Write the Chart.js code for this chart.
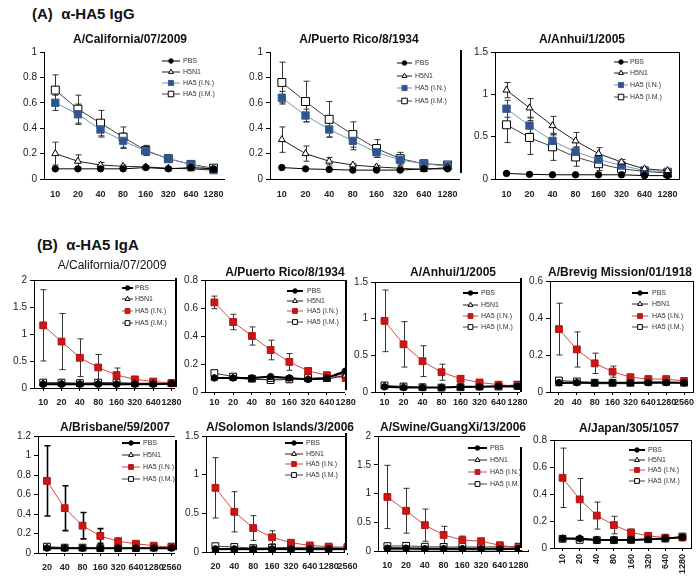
<!DOCTYPE html>
<html>
<head>
<meta charset="utf-8">
<script src="https://cdn.jsdelivr.net/npm/chart.js@4.4.0/dist/chart.umd.min.js"></script>
<style>
  body { margin:0; background:#fff; width:700px; height:581px; position:relative; overflow:hidden; font-family:"Liberation Sans", Arial, sans-serif; }
  canvas { position:absolute; }
  .head { position:absolute; font-weight:bold; font-size:15px; color:#111; white-space:pre; }
  .ttl { position:absolute; font-weight:bold; font-size:12px; color:#111; white-space:nowrap; transform:translateX(-50%); line-height:14px; }
</style>
</head>
<body>
<div class="head" style="left:32px;top:5px">(A)  α-HA5 IgG</div>
<div class="head" style="left:37px;top:236px">(B)  α-HA5 IgA</div>
<script>
// dilutions (x categories)
const dil10 = ['10', '20', '40', '80', '160', '320', '640', '1280'];
const dil20 = ['20', '40', '80', '160', '320', '640', '1280', '2560'];
const seriesNames = ['PBS', 'H5N1', 'HA5 (I.N.)', 'HA5 (I.M.)'];

// (A) IgG - A/California/07/2009
const gCalPBS = [0.08, 0.08, 0.08, 0.08, 0.09, 0.08, 0.09, 0.08];
const gCalH5N1 = [0.20, 0.14, 0.11, 0.10, 0.095, 0.085, 0.08, 0.07];
const gCalIN = [0.60, 0.51, 0.39, 0.30, 0.22, 0.16, 0.115, 0.07];
const gCalIM = [0.70, 0.55, 0.44, 0.33, 0.225, 0.16, 0.115, 0.085];
const gCalH5N1Err = [0.09, 0.05, 0.02, 0.01, 0.01, 0.01, 0.01, 0.01];
const gCalINErr = [0.06, 0.08, 0.06, 0.06, 0.03, 0.02, 0.01, 0.01];
const gCalIMErr = [0.12, 0.11, 0.10, 0.08, 0.04, 0.02, 0.01, 0.01];

// (A) IgG - A/Puerto Rico/8/1934
const gPrPBS = [0.09, 0.08, 0.075, 0.07, 0.07, 0.07, 0.08, 0.08];
const gPrH5N1 = [0.31, 0.20, 0.14, 0.11, 0.095, 0.085, 0.075, 0.09];
const gPrIN = [0.64, 0.50, 0.39, 0.30, 0.21, 0.15, 0.12, 0.10];
const gPrIM = [0.76, 0.61, 0.47, 0.35, 0.24, 0.16, 0.12, 0.11];
const gPrH5N1Err = [0.10, 0.06, 0.03, 0.01, 0.01, 0.01, 0.01, 0.01];
const gPrINErr = [0.05, 0.05, 0.06, 0.07, 0.04, 0.02, 0.01, 0.01];
const gPrIMErr = [0.16, 0.16, 0.14, 0.10, 0.07, 0.05, 0.02, 0.01];

// (A) IgG - A/Anhui/1/2005
const gAnPBS = [0.066, 0.055, 0.05, 0.05, 0.05, 0.05, 0.04, 0.04];
const gAnH5N1 = [1.05, 0.84, 0.63, 0.45, 0.30, 0.20, 0.12, 0.10];
const gAnIN = [0.83, 0.63, 0.45, 0.32, 0.23, 0.16, 0.10, 0.085];
const gAnIM = [0.64, 0.49, 0.38, 0.26, 0.18, 0.12, 0.09, 0.07];
const gAnH5N1Err = [0.09, 0.11, 0.11, 0.10, 0.07, 0.03, 0.02, 0.02];
const gAnINErr = [0.10, 0.09, 0.08, 0.06, 0.04, 0.03, 0.02, 0.01];
const gAnIMErr = [0.21, 0.20, 0.16, 0.11, 0.08, 0.04, 0.02, 0.01];

// (B) IgA - A/California/07/2009
const aCalPBS = [0.07, 0.07, 0.07, 0.07, 0.07, 0.07, 0.07, 0.08];
const aCalH5N1 = [0.08, 0.08, 0.08, 0.08, 0.08, 0.08, 0.08, 0.08];
const aCalIN = [1.16, 0.86, 0.56, 0.38, 0.24, 0.16, 0.12, 0.09];
const aCalIM = [0.10, 0.10, 0.09, 0.10, 0.10, 0.09, 0.09, 0.09];
const aCalINErr = [0.66, 0.52, 0.35, 0.24, 0.13, 0.05, 0.02, 0.01];

// (B) IgA - A/Puerto Rico/8/1934
const aPrPBS = [0.10, 0.10, 0.10, 0.11, 0.10, 0.09, 0.10, 0.15];
const aPrH5N1 = [0.10, 0.10, 0.09, 0.09, 0.095, 0.09, 0.09, 0.12];
const aPrIN = [0.64, 0.50, 0.40, 0.30, 0.215, 0.15, 0.12, 0.10];
const aPrIM = [0.135, 0.11, 0.095, 0.085, 0.09, 0.10, 0.10, 0.135];
const aPrINErr = [0.045, 0.055, 0.065, 0.07, 0.06, 0.02, 0.01, 0.01];

// (B) IgA - A/Anhui/1/2005
const aAnPBS = [0.07, 0.06, 0.06, 0.06, 0.07, 0.07, 0.08, 0.08];
const aAnH5N1 = [0.08, 0.07, 0.06, 0.06, 0.06, 0.07, 0.07, 0.07];
const aAnIN = [0.97, 0.65, 0.42, 0.27, 0.18, 0.13, 0.10, 0.08];
const aAnIM = [0.09, 0.075, 0.065, 0.06, 0.065, 0.075, 0.075, 0.10];
const aAnINErr = [0.42, 0.31, 0.21, 0.11, 0.04, 0.02, 0.01, 0.01];

// (B) IgA - A/Brevig Mission/01/1918
const aBrPBS = [0.05, 0.05, 0.05, 0.05, 0.05, 0.05, 0.05, 0.05];
const aBrH5N1 = [0.045, 0.05, 0.045, 0.045, 0.045, 0.05, 0.05, 0.05];
const aBrIN = [0.34, 0.23, 0.155, 0.11, 0.08, 0.07, 0.07, 0.06];
const aBrIM = [0.062, 0.057, 0.05, 0.05, 0.05, 0.055, 0.055, 0.05];
const aBrINErr = [0.14, 0.095, 0.055, 0.03, 0.01, 0.01, 0.01, 0.01];

// (B) IgA - A/Brisbane/59/2007
const aBbPBS = [0.05, 0.05, 0.05, 0.05, 0.05, 0.05, 0.05, 0.05];
const aBbH5N1 = [0.05, 0.05, 0.05, 0.05, 0.05, 0.05, 0.05, 0.05];
const aBbIN = [0.74, 0.46, 0.28, 0.175, 0.12, 0.095, 0.075, 0.06];
const aBbIM = [0.065, 0.055, 0.055, 0.05, 0.05, 0.05, 0.055, 0.065];
const aBbINErr = [0.36, 0.23, 0.135, 0.075, 0.03, 0.01, 0.01, 0.01];

// (B) IgA - A/Solomon Islands/3/2006
const aSoPBS = [0.04, 0.04, 0.04, 0.04, 0.04, 0.04, 0.04, 0.04];
const aSoH5N1 = [0.03, 0.03, 0.03, 0.03, 0.03, 0.03, 0.03, 0.03];
const aSoIN = [0.83, 0.52, 0.31, 0.19, 0.12, 0.085, 0.07, 0.05];
const aSoIM = [0.075, 0.065, 0.05, 0.055, 0.06, 0.06, 0.06, 0.065];
const aSoINErr = [0.39, 0.26, 0.16, 0.085, 0.02, 0.01, 0.01, 0.01];

// (B) IgA - A/Swine/GuangXi/13/2006
const aSwPBS = [0.05, 0.05, 0.04, 0.04, 0.04, 0.04, 0.04, 0.04];
const aSwH5N1 = [0.02, 0.02, 0.02, 0.02, 0.02, 0.02, 0.02, 0.03];
const aSwIN = [0.94, 0.70, 0.45, 0.28, 0.19, 0.17, 0.10, 0.05];
const aSwIM = [0.085, 0.09, 0.075, 0.07, 0.07, 0.07, 0.075, 0.075];
const aSwINErr = [0.55, 0.39, 0.28, 0.15, 0.07, 0.05, 0.01, 0.01];

// (B) IgA - A/Japan/305/1057
const aJpPBS = [0.07, 0.07, 0.06, 0.06, 0.06, 0.065, 0.07, 0.08];
const aJpH5N1 = [0.07, 0.07, 0.06, 0.06, 0.06, 0.06, 0.07, 0.08];
const aJpIN = [0.52, 0.36, 0.24, 0.17, 0.115, 0.09, 0.077, 0.077];
const aJpIM = [0.068, 0.06, 0.058, 0.058, 0.06, 0.065, 0.07, 0.085];
const aJpINErr = [0.22, 0.155, 0.10, 0.065, 0.025, 0.01, 0.01, 0.01];

// layout of each panel (page pixels)
const panels = [
  { kind: 'igg', title: 'A/California/07/2009', tx: 130, ty: 39, labels: dil10,
    vals: [gCalPBS, gCalH5N1, gCalIN, gCalIM], errs: [null, gCalH5N1Err, gCalINErr, gCalIMErr],
    yMax: 1, yStep: 0.2, cx: 0, L: 44, T: 50, R: 227, B: 179, xPad: 10, xH: 26,
    leg: { x1: 162, x2: 180, tx: 183, ys: [61, 72, 83, 94] } },
  { kind: 'igg', title: 'A/Puerto Rico/8/1934', tx: 359, ty: 39, labels: dil10,
    vals: [gPrPBS, gPrH5N1, gPrIN, gPrIM], errs: [null, gPrH5N1Err, gPrINErr, gPrIMErr],
    yMax: 1, yStep: 0.2, cx: 230, L: 270, T: 50, R: 461, B: 179, xPad: 10, xH: 26,
    leg: { x1: 397, x2: 412, tx: 415, ys: [63, 76, 88, 101] } },
  { kind: 'igg', title: 'A/Anhui/1/2005', tx: 582, ty: 39, labels: dil10,
    vals: [gAnPBS, gAnH5N1, gAnIN, gAnIM], errs: [null, gAnH5N1Err, gAnINErr, gAnIMErr],
    yMax: 1.5, yStep: 0.5, cx: 460, L: 495, T: 50, R: 681, B: 179, xPad: 10, xH: 26, box: true, frame: [50, 173],
    leg: { x1: 614, x2: 628, tx: 630, ys: [62, 73, 85, 97] } },
  { kind: 'iga', title: 'A/California/07/2009', light: true, tx: 112, ty: 265, labels: dil10,
    vals: [aCalPBS, aCalH5N1, aCalIN, aCalIM], errs: [null, null, aCalINErr, null],
    yMax: 2, yStep: 0.5, cx: 0, L: 34, T: 278, B: 388, R: 181, xPad: 6, xH: 20, box: true,
    leg: { x1: 122, x2: 133, tx: 135, ys: [288, 299, 311, 323] } },
  { kind: 'iga', title: 'A/Puerto Rico/8/1934', tx: 285, ty: 272, labels: dil10,
    vals: [aPrPBS, aPrH5N1, aPrIN, aPrIM], errs: [null, null, aPrINErr, null],
    yMax: 0.8, yStep: 0.2, cx: 175, L: 205, T: 278, B: 392, R: 355, xPad: 2, xH: 16, box: true, frame: [278, 387],
    leg: { x1: 287, x2: 303, tx: 307, ys: [291, 301, 311, 322] } },
  { kind: 'iga', title: 'A/Anhui/1/2005', tx: 453, ty: 272, labels: dil10,
    vals: [aAnPBS, aAnH5N1, aAnIN, aAnIM], errs: [null, null, aAnINErr, null],
    yMax: 1.5, yStep: 0.5, cx: 345, L: 375, T: 280, B: 392, R: 527, xPad: 2, xH: 16, box: true, frame: [280, 390],
    leg: { x1: 463, x2: 478, tx: 481, ys: [293, 305, 316, 327] } },
  { kind: 'iga', title: 'A/Brevig Mission/01/1918', tx: 620, ty: 272, labels: dil20,
    vals: [aBrPBS, aBrH5N1, aBrIN, aBrIM], errs: [null, null, aBrINErr, null],
    yMax: 0.6, yStep: 0.2, cx: 520, L: 550, T: 279, B: 392, R: 693, xPad: 2, xH: 16, box: true, frame: [278, 392],
    leg: { x1: 632, x2: 648, tx: 652, ys: [293, 304, 316, 327] } },
  { kind: 'iga', title: 'A/Brisbane/59/2007', tx: 115, ty: 427, labels: dil20,
    vals: [aBbPBS, aBbH5N1, aBbIN, aBbIM], errs: [null, null, aBbINErr, null], heavyErr: true,
    yMax: 1.2, yStep: 0.2, cx: 0, L: 38, T: 434, B: 553, R: 181, xPad: 6, xH: 24, box: true,
    leg: { x1: 122, x2: 140, tx: 143, ys: [443, 455, 467, 479] } },
  { kind: 'iga', title: 'A/Solomon Islands/3/2006', tx: 280, ty: 427, labels: dil20,
    vals: [aSoPBS, aSoH5N1, aSoIN, aSoIM], errs: [null, null, aSoINErr, null],
    yMax: 1.5, yStep: 0.5, cx: 175, L: 206, T: 434, B: 552, R: 357, xPad: 6, xH: 24, box: true, frame: [440, 550],
    leg: { x1: 285, x2: 303, tx: 306, ys: [443, 454, 464, 475] } },
  { kind: 'iga', title: 'A/Swine/GuangXi/13/2006', tx: 453, ty: 427, labels: dil10,
    vals: [aSwPBS, aSwH5N1, aSwIN, aSwIM], errs: [null, null, aSwINErr, null],
    yMax: 2, yStep: 0.5, cx: 345, L: 378, T: 434, B: 551, R: 528, xPad: 6, xH: 24, box: true, frame: [433, 550],
    leg: { x1: 468, x2: 487, tx: 490, ys: [448, 460, 472, 484] } },
  { kind: 'iga', title: 'A/Japan/305/1057', tx: 629, ty: 428, labels: dil10,
    vals: [aJpPBS, aJpH5N1, aJpIN, aJpIM], errs: [null, null, aJpINErr, null],
    yMax: 0.8, yStep: 0.2, cx: 520, L: 554, T: 438, B: 548, R: 691, xPad: 3, xH: 30, rot: 90, box: true, frame: [447, 548],
    leg: { x1: 629, x2: 645, tx: 648, ys: [450, 460, 470, 481] } }
];

const FONT = 'Liberation Sans';

// white background over the plot part only, plot box and chart-frame fragments
const framePlugin = {
  id: 'frames',
  beforeDraw(chart) {
    const ctx = chart.ctx;
    ctx.save();
    ctx.fillStyle = '#fff';
    ctx.fillRect(0, 0, chart.width, chart.chartArea.bottom + 2);
    ctx.restore();
  },
  afterDraw(chart, args, o) {
    const ctx = chart.ctx;
    const a = chart.chartArea;
    ctx.save();
    ctx.strokeStyle = '#000';
    if (o.box) {
      ctx.lineWidth = 1;
      ctx.strokeRect(Math.round(a.left) + 0.5, Math.round(a.top) + 0.5, Math.round(a.right - a.left), Math.round(a.bottom - a.top));
    }
    if (o.frame) {
      ctx.lineWidth = 2;
      ctx.beginPath();
      ctx.moveTo(1, o.frame[0]);
      ctx.lineTo(1, o.frame[1]);
      ctx.stroke();
    }
    ctx.restore();
  }
};

// vertical error bars
const errorBarPlugin = {
  id: 'errorBars',
  beforeDatasetsDraw(chart, args, o) {
    const ctx = chart.ctx;
    const ys = chart.scales.y;
    chart.data.datasets.forEach((ds, i) => {
      if (!ds.errors) return;
      const meta = chart.getDatasetMeta(i);
      ctx.save();
      ctx.strokeStyle = o.color;
      ctx.lineWidth = o.width;
      meta.data.forEach((pt, j) => {
        const e = ds.errors[j];
        if (!e) return;
        const v = ds.data[j];
        const y1 = ys.getPixelForValue(v + e);
        const y2 = ys.getPixelForValue(Math.max(0, v - e));
        const x = Math.round(pt.x) + 0.5;
        ctx.beginPath();
        ctx.moveTo(x, y1); ctx.lineTo(x, y2);
        ctx.moveTo(x - 3, y1); ctx.lineTo(x + 3, y1);
        ctx.moveTo(x - 3, y2); ctx.lineTo(x + 3, y2);
        ctx.stroke();
      });
      ctx.restore();
    });
  }
};

// legend drawn inside the plot, one row per series
const innerLegendPlugin = {
  id: 'innerLegend',
  afterDraw(chart, args, o) {
    if (!o.ys) return;
    const ctx = chart.ctx;
    chart.data.datasets.forEach((ds, i) => {
      const y = o.ys[i];
      ctx.save();
      ctx.strokeStyle = ds.borderColor;
      ctx.lineWidth = ds.borderWidth;
      ctx.beginPath();
      ctx.moveTo(o.x1, y); ctx.lineTo(o.x2, y);
      ctx.stroke();
      ctx.fillStyle = ds.pointBackgroundColor;
      ctx.strokeStyle = ds.pointBorderColor;
      ctx.lineWidth = 1;
      Chart.helpers.drawPoint(ctx, { pointStyle: ds.pointStyle, rotation: 0, radius: ds.pointRadius * 0.7, borderWidth: 1 }, (o.x1 + o.x2) / 2, y);
      ctx.fillStyle = '#333';
      ctx.font = '7px "' + FONT + '"';
      ctx.textBaseline = 'middle';
      ctx.fillText(ds.label, o.tx, y + 0.5);
      ctx.restore();
    });
  }
};

Chart.register(framePlugin, errorBarPlugin, innerLegendPlugin);

function seriesStyle(kind, i) {
  if (i === 0) {
    return { borderColor: '#000', borderWidth: kind === 'iga' ? 2 : 1, pointStyle: 'circle', pointRadius: 3.2,
      pointBackgroundColor: '#000', pointBorderColor: '#000' };
  }
  if (i === 1) {
    return { borderColor: '#222', borderWidth: 1, pointStyle: 'triangle', pointRadius: 4,
      pointBackgroundColor: '#fff', pointBorderColor: '#000' };
  }
  if (i === 2) {
    if (kind === 'igg') {
      return { borderColor: '#7d93ba', borderWidth: 1, pointStyle: 'rect', pointRadius: 5.2,
        pointBackgroundColor: '#2d5592', pointBorderColor: '#3a5f98' };
    }
    return { borderColor: '#d24a4a', borderWidth: 1, pointStyle: 'rect', pointRadius: 4.8,
      pointBackgroundColor: '#cc1616', pointBorderColor: '#b51212' };
  }
  return { borderColor: '#444', borderWidth: 1, pointStyle: 'rect', pointRadius: kind === 'igg' ? 5.6 : 4.8,
    pointBackgroundColor: '#fff', pointBorderColor: '#000' };
}

panels.forEach(p => {
  const padT = 7;
  const padR = 7;
  const yW = p.L - p.cx;
  const top = p.T - padT;
  const w = p.R + padR - p.cx;
  const h = p.B + p.xH - top;

  const cv = document.createElement('canvas');
  cv.width = w; cv.height = h;
  cv.style.left = p.cx + 'px'; cv.style.top = top + 'px';
  cv.style.width = w + 'px'; cv.style.height = h + 'px';
  document.body.appendChild(cv);

  const datasets = p.vals.map((v, i) => Object.assign({
    label: seriesNames[i],
    data: v,
    errors: p.errs[i],
    tension: 0,
    pointBorderWidth: 1
  }, seriesStyle(p.kind, i)));

  const rot = p.rot || 0;
  new Chart(cv, {
    type: 'line',
    data: { labels: p.labels, datasets },
    options: {
      responsive: false,
      animation: false,
      devicePixelRatio: 1,
      layout: { padding: { top: padT, right: padR, left: 0, bottom: 0 } },
      plugins: {
        legend: { display: false },
        tooltip: { enabled: false },
        frames: { box: !!p.box, frame: p.frame ? [p.frame[0] - top, p.frame[1] - top] : null },
        errorBars: { color: p.heavyErr ? '#000' : '#333', width: p.heavyErr ? 1.6 : 1 },
        innerLegend: { x1: p.leg.x1 - p.cx, x2: p.leg.x2 - p.cx, tx: p.leg.tx - p.cx, ys: p.leg.ys.map(y => y - top) }
      },
      scales: {
        x: {
          type: 'category',
          offset: true,
          grid: { display: true, drawOnChartArea: false, tickLength: p.kind === 'igg' ? 0 : 3, color: '#000' },
          border: { color: '#000', width: 1 },
          ticks: { autoSkip: false, maxRotation: rot, minRotation: rot, padding: p.xPad, color: '#222',
            font: { family: FONT, size: 9, weight: 'bold' } },
          afterFit(s) { s.height = p.xH; }
        },
        y: {
          min: 0, max: p.yMax,
          grid: { drawOnChartArea: false, tickLength: 4, color: '#000' },
          border: { color: '#000', width: 1 },
          ticks: { stepSize: p.yStep, padding: 3, color: '#222', font: { family: FONT, size: 10 },
            callback: v => String(Number(v.toFixed(2))) },
          afterFit(s) { s.width = yW; }
        }
      }
    }
  });
});

// panel titles as page text, above the canvases
panels.forEach(p => {
  const d = document.createElement('div');
  d.className = 'ttl';
  d.textContent = p.title;
  d.style.left = p.tx + 'px';
  d.style.top = (p.ty - 7) + 'px';
  if (p.light) d.style.fontWeight = 'normal';
  document.body.appendChild(d);
});
</script>
</body>
</html>
